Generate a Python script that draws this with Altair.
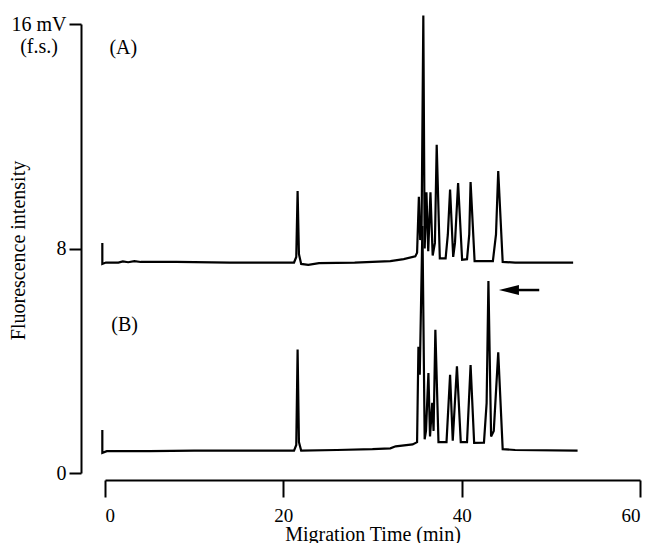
import altair as alt
import pandas as pd

FONT = "Liberation Serif"

# Trace (A): migration time (min) and fluorescence (mV)
a_time = [-0.3, -0.3, 0.1, 1.5, 2.0, 2.6, 3.3, 4.0, 8.0, 14.0, 21.2, 21.45, 21.6, 21.75, 22.0,
          22.8, 24.0, 28.0, 32.0, 33.5, 34.8, 35.0, 35.2, 35.35, 35.5, 35.7, 35.85, 36.05, 36.25,
          36.5, 36.75, 37.0, 37.2, 37.55, 38.2, 38.45, 38.7, 39.05, 39.25, 39.6, 40.05, 40.6,
          40.85, 41.0, 41.45, 43.5, 43.85, 44.1, 44.6, 46.0, 52.5]
a_signal = [8.2, 7.45, 7.5, 7.5, 7.54, 7.51, 7.55, 7.52, 7.52, 7.5, 7.5, 7.7, 10.05, 7.8, 7.45,
            7.42, 7.48, 7.5, 7.55, 7.62, 7.72, 7.85, 9.84, 8.3, 8.6, 16.3, 8.0, 10.0, 7.9,
            10.0, 7.75, 8.2, 11.7, 7.65, 7.65, 8.5, 10.1, 7.7, 8.2, 10.33, 7.6, 7.62,
            8.5, 10.37, 7.55, 7.55, 8.5, 10.76, 7.52, 7.5, 7.5]

# Trace (B)
b_time = [-0.3, -0.3, 0.2, 5.0, 10.0, 15.0, 21.2, 21.45, 21.6, 21.75, 22.0, 26.0, 30.0, 32.0,
          32.6, 34.5, 35.0, 35.15, 35.3, 35.6, 35.85, 36.0, 36.27, 36.45, 36.7, 36.85, 37.05,
          37.4, 38.3, 38.7, 39.0, 39.47, 39.9, 40.6, 41.0, 41.4, 42.5, 42.8, 43.0, 43.3, 43.6,
          44.1, 44.6, 46.0, 53.0]
b_signal = [1.53, 0.72, 0.78, 0.78, 0.8, 0.8, 0.8, 1.0, 4.4, 1.1, 0.8, 0.82, 0.85, 0.88,
            0.95, 1.02, 1.1, 4.5, 3.5, 8.8, 1.2, 1.5, 3.56, 1.3, 2.5, 1.5, 5.1,
            1.1, 1.1, 3.5, 1.15, 3.8, 1.1, 1.1, 3.85, 1.07, 1.08, 2.5, 6.84, 1.3, 1.5,
            4.3, 0.85, 0.82, 0.8]

x_ticks = [0, 20, 40, 60]
y_ticks = [0, 8, 16]

panel_labels = ["(A)", "(B)"]
panel_label_time = [0.5, 0.7]
panel_label_signal = [15.15, 5.27]

arrow_time = [45.3, 48.7]
arrow_signal = [6.52, 6.52]
arrow_head_time = [45.3]
arrow_head_signal = [6.52]

rows = []
for i, (t, v) in enumerate(zip(a_time, a_signal)):
    rows.append({"trace": "A", "i": i, "t": t, "v": v})
for i, (t, v) in enumerate(zip(b_time, b_signal)):
    rows.append({"trace": "B", "i": i, "t": t, "v": v})
df = pd.DataFrame(rows)

lab_df = pd.DataFrame({"t": panel_label_time, "v": panel_label_signal, "txt": panel_labels})
arrow_df = pd.DataFrame({"t": arrow_time, "v": arrow_signal})
head_df = pd.DataFrame({"t": arrow_head_time, "v": arrow_head_signal})
fs_df = pd.DataFrame({"txt": ["(f.s.)"]})

x_axis = alt.Axis(
    values=x_ticks, title="Migration Time (min)", grid=False, offset=7,
    tickSize=17, tickWidth=2, tickColor="black", domainColor="black", domainWidth=2,
    labelFont=FONT, labelFontSize=19, labelColor="black", labelPadding=9,
    titleFont=FONT, titleFontSize=20, titleFontWeight="normal", titleColor="black",
    titleY=60, titleBaseline="alphabetic",
)
y_axis = alt.Axis(
    values=y_ticks, title="Fluorescence intensity", grid=False, offset=24,
    tickSize=12, tickWidth=2, tickColor="black", domainColor="black", domainWidth=2,
    labelFont=FONT, labelFontSize=20, labelColor="black", labelPadding=3,
    labelExpr="datum.value == 16 ? '16 mV' : datum.label",
    titleFont=FONT, titleFontSize=20, titleFontWeight="normal", titleColor="black",
    titleX=-57, titleY=226, titleBaseline="alphabetic", titleAngle=270,
)

X = alt.X("t:Q", scale=alt.Scale(domain=[0, 60], nice=False, zero=False), axis=x_axis)
Y = alt.Y("v:Q", scale=alt.Scale(domain=[0, 16], nice=False), axis=y_axis)

lines = alt.Chart(df).mark_line(color="black", strokeWidth=2.2, clip=False).encode(
    x=X, y=Y, detail="trace:N", order="i:Q"
)
labels = alt.Chart(lab_df).mark_text(font=FONT, fontSize=20, align="left", baseline="middle",
                                     color="black").encode(x=X, y=Y, text="txt:N")
arrow = alt.Chart(arrow_df).mark_line(color="black", strokeWidth=2.5).encode(x=X, y=Y)
head = alt.Chart(head_df).mark_point(
    shape="M-1,0L1,-0.5L1,0.5Z", filled=True, color="black", size=400, opacity=1
).encode(x=X, y=Y)
fs = alt.Chart(fs_df).mark_text(font=FONT, fontSize=20, align="center", baseline="middle",
                                color="black").encode(
    text="txt:N", x=alt.value(-66), y=alt.value(23)
)

chart = alt.layer(lines, labels, arrow, head, fs).properties(
    width=535, height=449,
    autosize=alt.AutoSizeParams(type="none"),
    padding={"left": 97, "top": 16, "right": 9, "bottom": 70},
    background="white",
).configure_view(stroke=None)

chart.save("out.html", embed_options={"renderer": "svg", "actions": False})
